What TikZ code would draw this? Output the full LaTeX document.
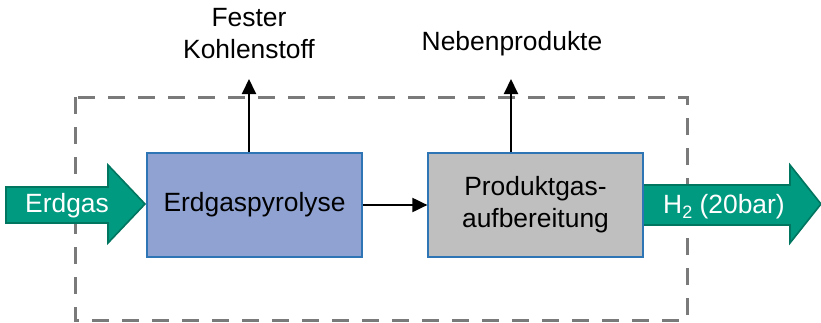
\documentclass[tikz,border=0pt]{standalone}
\usepackage{fontspec}
\setmainfont{Liberation Sans}
\usepackage{tikz}
\usetikzlibrary{arrows.meta,positioning}

\definecolor{flowgreen}{HTML}{009A80}
\definecolor{flowedge}{HTML}{00755F}
\definecolor{boxblue}{HTML}{8FA2D2}
\definecolor{boxedge}{HTML}{2E75B6}
\definecolor{boxgray}{HTML}{BFBFBF}
\definecolor{frame}{HTML}{7A7A7A}

\begin{document}
\begin{tikzpicture}[x=0.5pt,y=-0.5pt,
  every node/.style={font=\fontsize{13.2}{16}\selectfont,align=center,inner sep=0pt},
  process/.style={draw=boxedge,line width=0.6pt,minimum width=107.5pt,minimum height=52pt},
  bigarrow/.style={fill=flowgreen,draw=flowedge,line width=0.8pt,line join=miter},
  flow/.style={-{Triangle[length=7.5pt,width=7pt]},line width=1pt}]
  \useasboundingbox (0,0) rectangle (821,322);

  % system boundary
  \draw[frame,line width=1.5pt,dash pattern=on 8.5pt off 6.5pt]
    (75,97) rectangle (687,320);

  % feed and product streams
  \draw[bigarrow] (6,187) -- (108,187) -- (108,165) -- (145,204)
    -- (108,243) -- (108,223) -- (6,223) -- cycle;
  \draw[bigarrow] (640,185) -- (790,185) -- (790,165) -- (821,204)
    -- (790,243) -- (790,225) -- (640,225) -- cycle;
  \node[text=white] (feed) at (67,206) {Erdgas};
  \node[text=white] (product) at (724,207)
    {H\raisebox{-0.35ex}{\fontsize{9}{9}\selectfont 2} (20bar)};

  % process units
  \node[process,fill=boxblue] (pyro) at (254.5,205) {Erdgaspyrolyse};
  \node[process,fill=boxgray] (clean) at (535.5,205) {Produktgas-\\aufbereitung};

  % side streams
  \coordinate (carbon) at (249,79);
  \coordinate (byprod) at (511,79);
  \node (carbontxt) at (249,34) {Fester\\Kohlenstoff};
  \node (byprodtxt) at (512,44) {Nebenprodukte};

  \draw[flow] (pyro.east) -- (clean.west);
  \draw[flow] (pyro.north -| carbon) -- (carbon);
  \draw[flow] (clean.north -| byprod) -- (byprod);
\end{tikzpicture}
\end{document}
